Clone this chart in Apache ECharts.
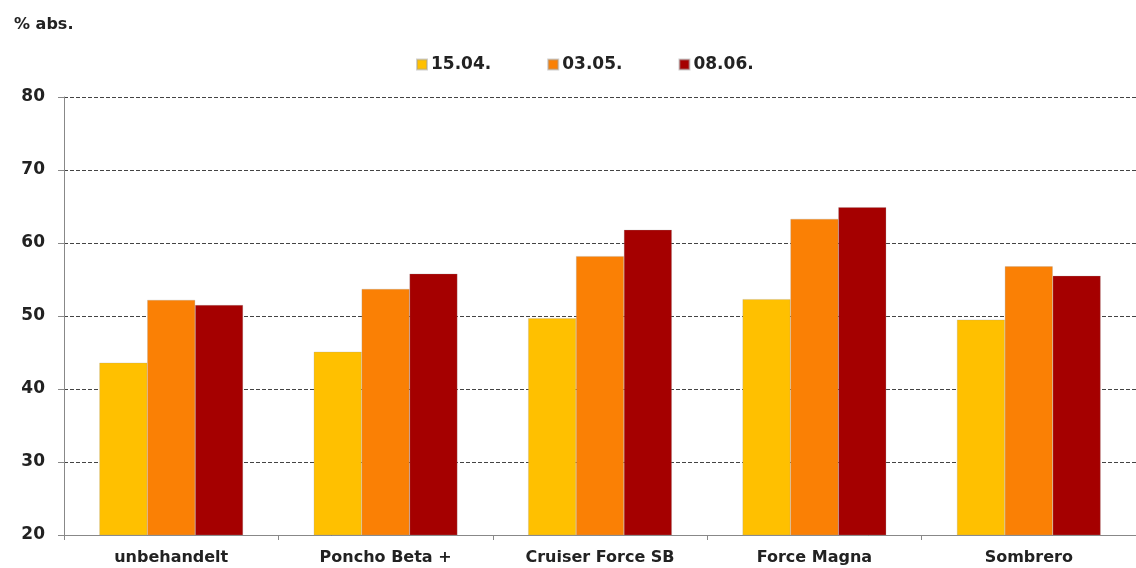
<!DOCTYPE html>
<html>
<head>
<meta charset="utf-8">
<script src="https://cdn.jsdelivr.net/npm/echarts@6/dist/echarts.min.js"></script>
<style>
  html, body { margin: 0; padding: 0; background: #fff; }
  #main { width: 1136px; height: 568px; }
</style>
</head>
<body>
<div id="main"></div>
<script>
  // Kategorien und Werte
  var categories = ['unbehandelt', 'Poncho Beta +', 'Cruiser Force SB', 'Force Magna', 'Sombrero'];
  var seriesNames = ['15.04.', '03.05.', '08.06.'];
  var values1504 = [43.6, 45.1, 49.7, 52.3, 49.5];
  var values0305 = [52.2, 53.7, 58.2, 63.3, 56.8];
  var values0806 = [51.5, 55.8, 61.8, 64.9, 55.5];
  var colors = ['#FFC000', '#FA8005', '#A50000'];

  var myChart = echarts.init(document.getElementById('main'));
  var font = 'DejaVu Sans, Arial, sans-serif';

  function bar(name, data, color) {
    return {
      name: name,
      type: 'bar',
      data: data,
      barGap: '0%',
      barCategoryGap: '33%',
      itemStyle: { color: color, borderColor: 'rgba(160,160,160,0.5)', borderWidth: 0.5 }
    };
  }

  var option = {
    animation: false,
    backgroundColor: '#fff',
    title: {
      text: '% abs.',
      left: 9, top: 12,
      textStyle: { fontFamily: font, fontSize: 16, fontWeight: 'bold', color: '#222' }
    },
    legend: {
      data: seriesNames,
      top: 51,
      left: 411,
      itemWidth: 10, itemHeight: 10,
      itemGap: 56,
      icon: 'rect',
      textStyle: { fontFamily: font, fontSize: 17, fontWeight: 'bold', color: '#222', padding: [0, 0, 0, -1] }
    },
    grid: { left: 64, width: 1078, top: 97, bottom: 33, containLabel: false },
    xAxis: {
      type: 'category',
      data: categories,
      axisLine: { lineStyle: { color: '#888', width: 1 } },
      axisTick: { show: true, length: 5, lineStyle: { color: '#888' } },
      axisLabel: { fontFamily: font, fontSize: 16, fontWeight: 'bold', color: '#222', margin: 15 }
    },
    yAxis: {
      type: 'value',
      min: 20, max: 80, interval: 10,
      axisLine: { show: true, lineStyle: { color: '#888', width: 1 } },
      axisTick: { show: true, length: 6, lineStyle: { color: '#888' } },
      axisLabel: { fontFamily: font, fontSize: 17, fontWeight: 'bold', color: '#222', margin: 19 },
      splitLine: { show: true, lineStyle: { color: '#444', type: [4, 2], width: 1 } }
    },
    series: [
      bar(seriesNames[0], values1504, colors[0]),
      bar(seriesNames[1], values0305, colors[1]),
      bar(seriesNames[2], values0806, colors[2])
    ]
  };
  myChart.setOption(option, true);
</script>
</body>
</html>
